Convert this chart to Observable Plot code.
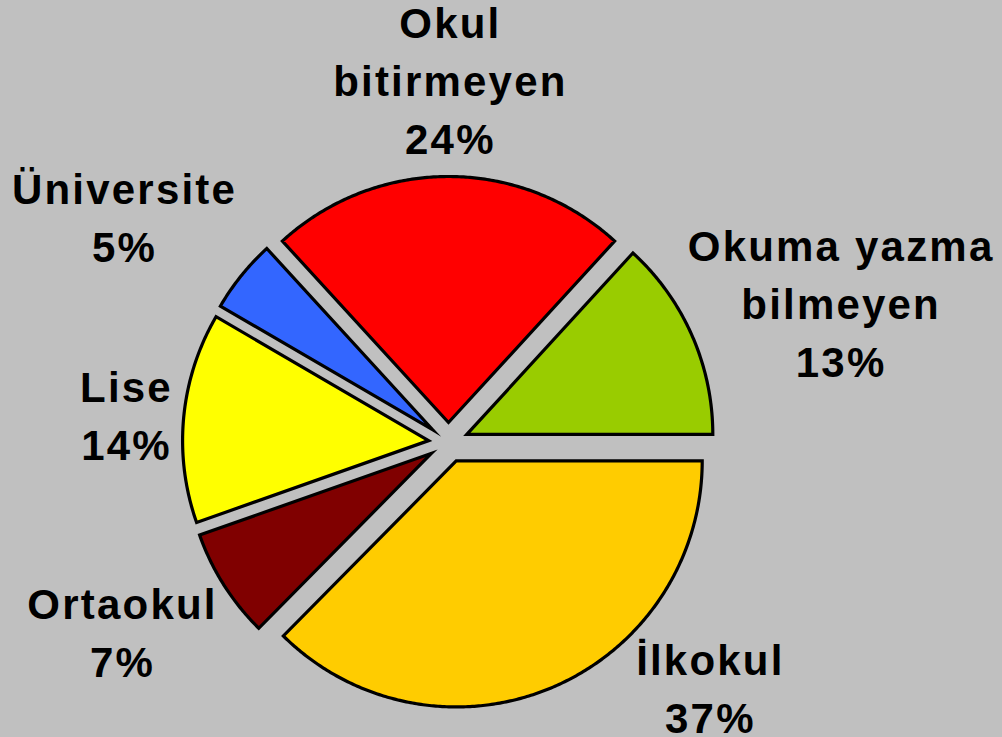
<!DOCTYPE html>
<html>
<head>
<meta charset="utf-8">
<script src="https://cdn.jsdelivr.net/npm/d3@7"></script>
<script src="https://cdn.jsdelivr.net/npm/@observablehq/plot@0.6"></script>
<style>
  html, body { margin: 0; padding: 0; background: #C0C0C0; }
  #chart svg text { letter-spacing: 2.2px; }
</style>
</head>
<body>
<div id="chart"></div>
<script>
// ---- Data (clockwise order, as drawn) ----
const categories = ["Okuma yazma bilmeyen", "İlkokul", "Ortaokul", "Lise", "Üniversite", "Okul bitirmeyen"];
const values = [13.2, 37.4, 7.2, 13.8, 4.8, 23.6];
const labelLines = ["Okuma yazma\nbilmeyen", "İlkokul", "Ortaokul", "Lise", "Üniversite", "Okul\nbitirmeyen"];
const colors = ["#99CC00", "#FFCC00", "#800000", "#FFFF00", "#3366FF", "#FF0000"];

// ---- Layout ----
const W = 1002, H = 737;
const cx = 448, cy = 442, R = 246;       // pie centre & radius in pixels
const explode = 20 / R;                    // explosion distance (in radius units)
const startDeg = 90 - values[0] / d3.sum(values) * 360; // first slice ends at 3 o'clock
// label placement: [angle from 12 o'clock (deg), distance in radius units]
const labelPolar = [[70.8, 1.69], [133.4, 1.465], [239.5, 1.538], [274.4, 1.313], [304.5, 1.598], [0.3, 1.463]];

const total = d3.sum(values);
const rad = Math.PI / 180;
const pts = [];
let a = startDeg;
values.forEach((v, i) => {
  const span = v / total * 360;
  const a0 = a, a1 = a + span, m = (a0 + a1) / 2;
  const ox = explode * Math.sin(m * rad), oy = explode * Math.cos(m * rad);
  pts.push({cat: categories[i], x: ox, y: oy});
  const n = Math.max(2, Math.ceil(span / 0.5));
  for (let k = 0; k <= n; k++) {
    const t = (a0 + span * k / n) * rad;
    pts.push({cat: categories[i], x: ox + Math.sin(t), y: oy + Math.cos(t)});
  }
  a = a1;
});

const labels = categories.map((c, i) => {
  const [ang, dist] = labelPolar[i];
  return {
    cat: c,
    x: dist * Math.sin(ang * rad),
    y: dist * Math.cos(ang * rad),
    text: labelLines[i] + "\n" + Math.round(values[i] / total * 100) + "%"
  };
});

const chart = Plot.plot({
  width: W,
  height: H,
  margin: 0,
  style: {background: "#C0C0C0", overflow: "visible"},
  x: {domain: [-cx / R, (W - cx) / R], axis: null},
  y: {domain: [-(H - cy) / R, cy / R], axis: null},
  color: {domain: categories, range: colors},
  marks: [
    Plot.line(pts, {x: "x", y: "y", z: "cat", fill: "cat", stroke: "black", strokeWidth: 3.2,
      curve: "linear-closed", strokeLinejoin: "miter", strokeMiterlimit: 10}),
    Plot.text(labels, {x: "x", y: "y", dy: -5, text: "text", fill: "black", fontSize: 42, fontWeight: "bold",
      fontFamily: "'Liberation Sans', Arial, sans-serif", lineHeight: 1.38, textAnchor: "middle", lineAnchor: "middle"})
  ]
});
document.getElementById("chart").appendChild(chart);
</script>
</body>
</html>
